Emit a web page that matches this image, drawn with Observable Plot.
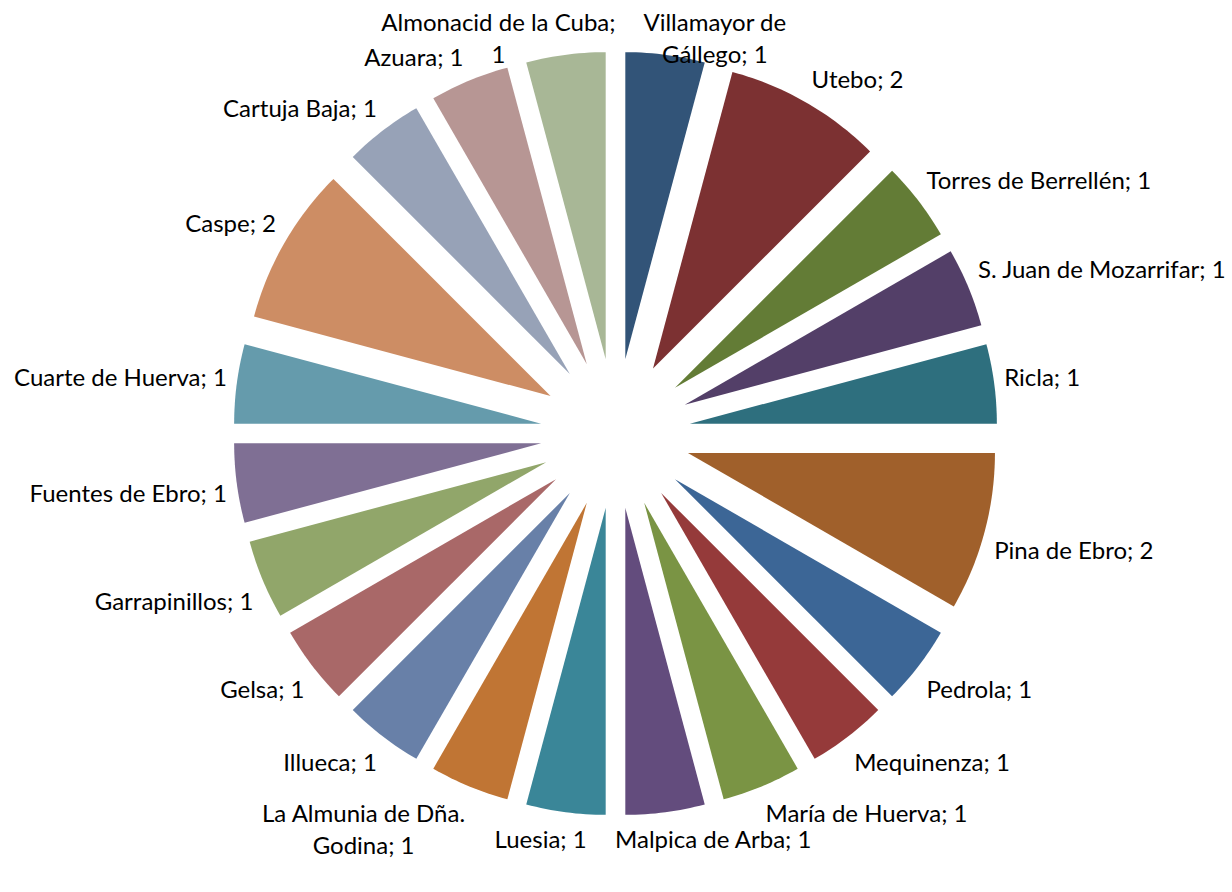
<!DOCTYPE html>
<html><head><meta charset="utf-8">
<script src="https://cdn.jsdelivr.net/npm/d3@7"></script>
<script src="https://cdn.jsdelivr.net/npm/@observablehq/plot@0.6"></script>
<style>body{margin:0;background:#fff}</style>
</head><body><div id="chart"></div>
<script>
// Data (clockwise from 12 o'clock)
const names = ["Villamayor de Gállego","Utebo","Torres de Berrellén","S. Juan de Mozarrifar","Ricla","Pina de Ebro","Pedrola","Mequinenza","María de Huerva","Malpica de Arba","Luesia","La Almunia de Dña. Godina","Illueca","Gelsa","Garrapinillos","Fuentes de Ebro","Cuarte de Huerva","Caspe","Cartuja Baja","Azuara","Almonacid de la Cuba"];
const values = [1,2,1,1,1,2,1,1,1,1,1,1,1,1,1,1,1,2,1,1,1];
const labels = ["Villamayor de\nGállego; 1","Utebo; 2","Torres de Berrellén; 1","S. Juan de Mozarrifar; 1","Ricla; 1","Pina de Ebro; 2","Pedrola; 1","Mequinenza; 1","María de Huerva; 1","Malpica de Arba; 1","Luesia; 1","La Almunia de Dña.\nGodina; 1","Illueca; 1","Gelsa; 1","Garrapinillos; 1","Fuentes de Ebro; 1","Cuarte de Huerva; 1","Caspe; 2","Cartuja Baja; 1","Azuara; 1","Almonacid de la Cuba;\n1"];
const colors = ["#325478","#7C3132","#637C36","#533F68","#2E6F7E","#A0602B","#3C6696","#953A3A","#7A9444","#634C7D","#3A8698","#C07534","#6880A8","#A96868","#91A66A","#7F6F94","#659BAC","#CD8D64","#97A2B7","#B79694","#A8B796"];

// Layout
const W = 1232, H = 892, cx = 615, cy = 433, R = 307;
const explode = 75;        // px offset of each slice along its bisector
const gap = 10;            // px between slice edge and label
const fontSize = 24, fontFamily = "Lato", lineH = 1.33 * fontSize;

const pie = d3.pie().sort(null).value(d => d)(values);
const slices = pie.map((p, i) => ({name: names[i], color: colors[i], label: labels[i], a0: p.startAngle, a1: p.endAngle, mid: (p.startAngle + p.endAngle) / 2}));

const pts = [];
for (const s of slices) {
  const tx = explode / R * Math.sin(s.mid), ty = explode / R * Math.cos(s.mid);
  pts.push({name: s.name, color: s.color, x: tx, y: ty});
  const n = Math.ceil((s.a1 - s.a0) / (Math.PI / 180));
  for (let j = 0; j <= n; j++) {
    const a = s.a0 + (s.a1 - s.a0) * j / n;
    pts.push({name: s.name, color: s.color, x: tx + Math.sin(a), y: ty + Math.cos(a)});
  }
  pts.push({name: s.name, color: s.color, x: tx, y: ty});
}

// Label placement: box corner touching the point just outside the slice's outer edge
const ctx = document.createElement("canvas").getContext("2d");
ctx.font = `${fontSize}px ${fontFamily}`;
const sat = t => Math.max(-1, Math.min(1, t / 0.3));
const lab = slices.map(s => {
  const lines = s.label.split("\n");
  const widths = lines.map(l => ctx.measureText(l).width);
  const w = d3.max(widths), h = lines.length * lineH;
  const sn = Math.sin(s.mid), cs = Math.cos(s.mid);
  const rr = explode + R + gap;
  let px = cx + rr * sn + sat(sn) * w / 2;
  let py = cy - rr * cs - sat(cs) * h / 2;
  py = Math.max(h / 2 + 4, Math.min(H - h / 2 - 4, py));
  px = Math.max(w / 2 + 4, Math.min(W - w / 2 - 4, px));
  return {text: s.label, lines, widths, n: lines.length, px, py};
});
// resolve horizontal overlaps line by line
const pad = 28;
for (let it = 0; it < 200; it++) {
  let moved = false;
  for (let i = 0; i < lab.length; i++) for (let j = i + 1; j < lab.length; j++) {
    const A = lab[i], B = lab[j];
    for (let a = 0; a < A.n; a++) for (let b = 0; b < B.n; b++) {
      const ya = A.py + (a - (A.n - 1) / 2) * lineH, yb = B.py + (b - (B.n - 1) / 2) * lineH;
      if (Math.abs(ya - yb) >= fontSize * 1.05) continue;
      const ov = (A.widths[a] + B.widths[b]) / 2 + pad - Math.abs(A.px - B.px);
      if (ov > 0.5) {
        const sgn = A.px < B.px ? -1 : 1;
        A.px += sgn * ov / 2; B.px -= sgn * ov / 2; moved = true;
      }
    }
  }
  if (!moved) break;
}
const labData = lab.map(d => ({text: d.text, x: (d.px - cx) / R, y: (cy - d.py) / R}));

const chart = Plot.plot({
  width: W, height: H, margin: 0,
  x: {domain: [-cx / R, (W - cx) / R], axis: null},
  y: {domain: [-(H - cy) / R, cy / R], axis: null},
  color: {type: "identity"},
  marks: [
    Plot.line(pts, {x: "x", y: "y", z: "name", fill: "color", stroke: "none"}),
    Plot.text(labData, {x: "x", y: "y", text: "text", fontSize, fontFamily, lineHeight: 1.33, fill: "#000", textAnchor: "middle", lineAnchor: "middle"})
  ]
});
document.getElementById("chart").append(chart);
</script>
</body></html>
